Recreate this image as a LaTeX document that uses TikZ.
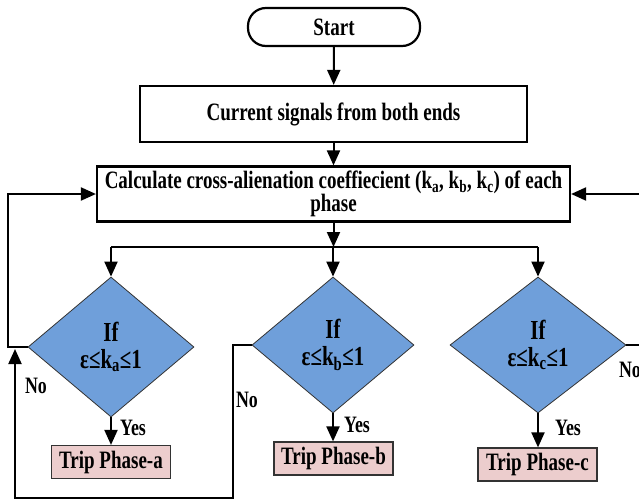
\documentclass[tikz,border=0pt]{standalone}
\usepackage{fontspec}
\setmainfont{Liberation Serif}[FakeStretch=0.76]
\usetikzlibrary{shapes.geometric, arrows.meta}
\definecolor{diablue}{RGB}{111,159,218}
\definecolor{trippink}{RGB}{236,205,205}

\begin{document}
\begin{tikzpicture}[x=1pt,y=-1pt]

\tikzset{process/.style = {shape=rectangle,draw,line width=2.2pt,font=\fontsize{25}{23}\selectfont\bfseries}}
\tikzset{decision/.style = {shape=diamond,draw=black!80,fill=diablue,line width=0.8pt,inner sep=0pt,align=center,font=\fontsize{27.5}{27}\selectfont\bfseries}}
\tikzset{trip/.style = {shape=rectangle,draw=black!80,fill=trippink,line width=1.2pt,minimum width=119pt,minimum height=33pt,font=\fontsize{25}{23}\selectfont\bfseries}}
\tikzset{answer/.style = {font=\fontsize{23.5}{22}\selectfont\bfseries,inner sep=0pt}}
\tikzset{edge/.style = {->,> = {Triangle[length=15pt,width=13pt]},line width=2pt}}
\tikzset{line/.style = {line width=2pt}}

\clip (0,0) rectangle (639,500);

%blocks
\node[process, rounded corners=18pt, minimum width=172pt, minimum height=38pt] (start) at (334,27) {Start};
\node[process, minimum width=387pt, minimum height=56pt] (sig) at (333.5,114) {Current signals from both ends};
\node[process, minimum width=473pt, minimum height=55pt, align=center, inner sep=1pt] (calc) at (333.5,194)
  {Calculate cross-alienation coeffiecient (k\textsubscript{a}, k\textsubscript{b}, k\textsubscript{c}) of each\\phase};
%decisions
\node[decision, minimum width=166pt, minimum height=140pt] (dia-a) at (111,347) {If\\ε≤k\textsubscript{a}≤1};
\node[decision, minimum width=162pt, minimum height=136pt] (dia-b) at (333,345) {If\\ε≤k\textsubscript{b}≤1};
\node[decision, minimum width=176pt, minimum height=136pt] (dia-c) at (538,345) {If\\ε≤k\textsubscript{c}≤1};
%trips
\node[trip] (trip-a) at (111,462) {Trip Phase-a};
\node[trip] (trip-b) at (333.5,458.5) {Trip Phase-b};
\node[trip] (trip-c) at (537.5,464.5) {Trip Phase-c};
%labels
\node[answer] (yes-a) at (133,428) {Yes};
\node[answer] (yes-b) at (357,425) {Yes};
\node[answer] (yes-c) at (568,428) {Yes};
\node[answer] (no-a) at (36,386) {No};
\node[answer] (no-b) at (247,400) {No};
\node[answer] (no-c) at (630,370) {No};
%helper points
\coordinate (split) at (calc.south |- 0,247);
\coordinate (nob) at (233,498);
\coordinate (backa) at (15,349);
\coordinate (noc) at (650,345);

%edges
\draw[edge] (start) -- (sig);
\draw[edge] (sig) -- (calc);
\draw[edge] (calc) -- (split);
\draw[line] (split -| dia-a.north) -- (split -| dia-c.north);
\draw[edge] (split -| dia-a.north) -- (dia-a.north);
\draw[edge] (split -| dia-b.north) -- (dia-b.north);
\draw[edge] (split -| dia-c.north) -- (dia-c.north);
\draw[edge] (dia-a.south) -- (dia-a.south |- trip-a.north);
\draw[edge] (dia-b.south) -- (dia-b.south |- trip-b.north);
\draw[edge] (dia-c.south) -- (dia-c.south |- trip-c.north);
\draw[edge] (dia-a.west) -- ++(-20,0) |- (calc.west);
\draw[edge] (dia-b.west) -| (nob) -| (backa);
\draw[edge] (dia-c.east) -- (noc) |- (calc.east);

\end{tikzpicture}
\end{document}
